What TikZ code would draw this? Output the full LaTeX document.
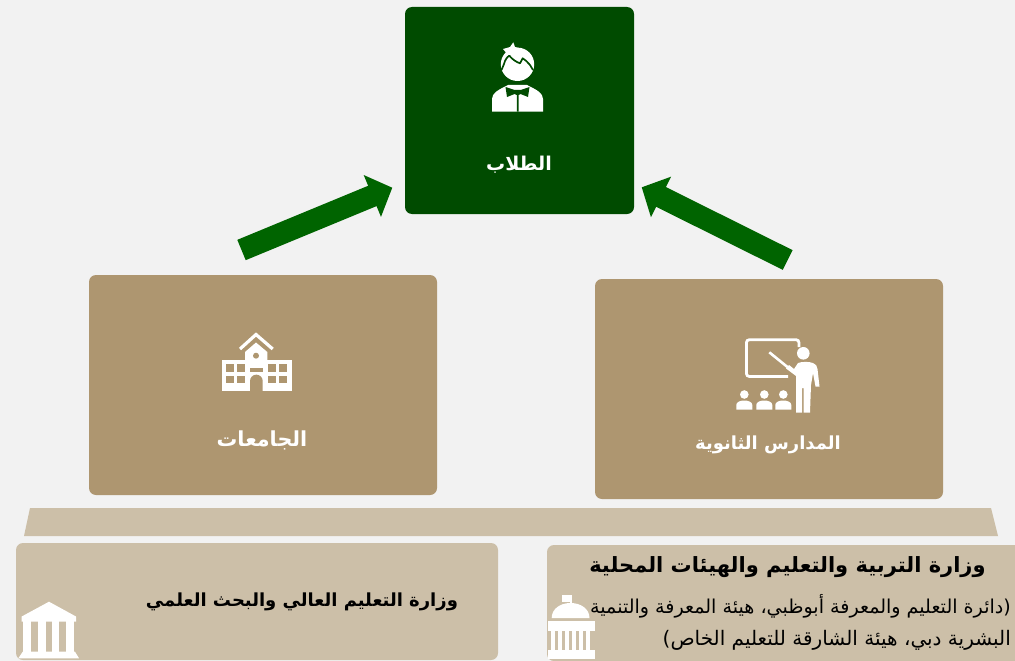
\documentclass[tikz,border=0pt]{standalone}
\usepackage{fontspec}
\usetikzlibrary{arrows.meta}
\TeXXeTstate=1
\newfontfamily\arabicfont[Script=Arabic]{DejaVu Sans}
\definecolor{pagebg}{HTML}{F2F2F2}
\definecolor{darkgreen}{HTML}{004B00}
\definecolor{arrowgreen}{HTML}{006400}
\definecolor{tan}{HTML}{AE9670}
\definecolor{lighttan}{HTML}{CCBFA8}
\newcommand{\ar}[1]{\arabicfont\beginR #1\endR}
\tikzset{
  x=1pt,y=-1pt,
  boxnode/.style={rounded corners=7pt,inner sep=0pt,outer sep=0pt,draw=none},
  greenbox/.style={boxnode,fill=darkgreen},
  tanbox/.style={boxnode,fill=tan},
  lightbox/.style={boxnode,fill=lighttan},
  whitelabel/.style={text=white,inner sep=0pt},
  blacklabel/.style={text=black,inner sep=0pt},
  bigarrow/.style={draw=arrowgreen,line width=22pt,-{Triangle[length=21.6pt,width=44pt]}},
  icon/.style={fill=white,draw=none},
  iconline/.style={draw=white,fill=none},
}
\begin{document}
\begin{tikzpicture}
\useasboundingbox (0,0) rectangle (1015,661);
\clip (0,0) rectangle (1015,661);
\fill[pagebg] (0,0) rectangle (1015,661);

% boxes
\node[greenbox,minimum width=229pt,minimum height=207pt] (students) at (519.5,110.5) {};
\node[tanbox,minimum width=348pt,minimum height=220pt] (universities) at (263,385) {};
\node[tanbox,minimum width=348pt,minimum height=220pt] (schools) at (769,389) {};
\path[fill=lighttan] (30,508) -- (991,508) -- (998,536) -- (24,536) -- cycle;
\node[lightbox,minimum width=482pt,minimum height=117pt] (higher) at (257,601.5) {};
\node[lightbox,minimum width=490pt,minimum height=116pt] (moe) at (792,603) {};

% arrows
\coordinate (lt) at (241.5,250);
\coordinate (lh) at (392.3,187.7);
\coordinate (rt) at (787.7,260);
\coordinate (rh) at (641.7,187.3);
\draw[bigarrow] (lt) -- (lh);
\draw[bigarrow] (rt) -- (rh);

% student icon
\fill[icon] (517.5,64.3) circle (16.7);
\fill[icon] (503,49) -- (510,47) -- (513.3,42.3) -- (515,47) -- (522,49) -- (508,55) -- cycle;
\draw[darkgreen,line width=1.7pt,line join=round] (501.5,70) -- (504,64) .. controls (505,60) and (507,57) .. (509.3,55.7) .. controls (512,59) and (516,62) .. (520,63.3) -- (522.7,58.3) .. controls (525,60) and (528,62) .. (530,65) -- (533,70);
\fill[icon] (492,111.5) -- (492,99) .. controls (492,93) and (498,90) .. (508,85) -- (527,85) .. controls (537,90) and (543,93) .. (543,99) -- (543,111.5) -- cycle;
\fill[darkgreen] (505.5,87) -- (514.5,90) -- (520.5,90) -- (529.5,87) -- (528,97) -- (520.5,94) -- (518.5,95) -- (518.5,111.5) -- (516.8,111.5) -- (516.8,95) -- (514.5,94) -- (507,97) -- cycle;

% university icon
\draw[iconline,line width=3.2pt] (240,349) -- (256,334.5) -- (272.7,349);
\fill[icon] (245,360) -- (245,352) -- (256,342.5) -- (267.3,352) -- (267.3,360) -- cycle;
\fill[icon] (221.7,360) rectangle (291.7,391);
\fill[tan] (256,355.7) circle (3);
\foreach \xa in {225.7,236.7,268.3,279.3}{
  \foreach \ya in {364.3,375.7}{
    \fill[tan] (\xa,\ya) rectangle ++(7.8,7.5);
  }
}
\fill[tan] (250,368) rectangle (262.7,371.7);
\fill[tan] (250,391) -- (250,381) arc[start angle=180,end angle=0,radius=6.35pt,y=1pt] -- (262.7,391) -- cycle;

% teacher icon
\draw[iconline,line width=2.8pt,rounded corners=3pt] (788,376.5) -- (746.4,376.5) -- (746.4,339.7) -- (799,339.7) -- (799,347);
\draw[iconline,line width=2.6pt] (769.3,352.3) -- (788.3,367.7);
\fill[icon] (803.3,353.3) circle (6.3);
\fill[icon] (786,368.5) -- (789,365) -- (794,369) -- (798,363) .. controls (802,361.5) and (809,361.5) .. (813,363) .. controls (816,364) and (817,366) .. (817.5,369) -- (819.5,386.5) -- (815.5,386.5) -- (813,373) -- (811,385) -- (810,412.5) -- (803.5,412.5) -- (803.5,388) -- (802,388) -- (802,412.5) -- (796,412.5) -- (796,376) -- cycle;
\foreach \xa in {744.3,764.3,783.3}{
  \fill[icon] (\xa,394.5) circle (4.3);
  \fill[icon] (\xa-8,409.5) -- (\xa-8,405) .. controls (\xa-8,402) and (\xa-4,400.5) .. (\xa,400.5) .. controls (\xa+4,400.5) and (\xa+8,402) .. (\xa+8,405) -- (\xa+8,409.5) -- cycle;
}

% temple icon (higher education)
\fill[icon] (49,601.7) -- (76,616.5) -- (76,621.7) -- (21.7,621.7) -- (21.7,616.5) -- cycle;
\foreach \xa/\xb in {23/31,37.5/45.5,52/59,65.5/74}{\fill[icon] (\xa,621) rectangle (\xb,652);}
\fill[icon] (22.7,651.7) -- (75,651.7) -- (79,658.3) -- (18.3,658.3) -- cycle;

% capitol icon
\fill[icon] (562.3,595) rectangle (572.3,601.7);
\fill[icon] (569.5,595) rectangle (572.3,606);
\fill[icon] (551.7,618) .. controls (551.7,609) and (560,603) .. (570.5,603) .. controls (581,603) and (589.5,609) .. (589.5,618) -- cycle;
\fill[icon] (548.3,620.5) rectangle (595,630.7);
\foreach \xa in {551,558,565,572,579,586}{\fill[icon] (\xa,630) rectangle ++(4.4,21);}
\fill[icon] (548,650) rectangle (595,658.5);

% labels
\node[whitelabel,font=\fontsize{19}{22}\selectfont\bfseries] (lstudents) at (519,165) {\ar{الطلاب}};
\node[whitelabel,font=\fontsize{20.7}{24}\selectfont\bfseries] (luniversities) at (262,440) {\ar{الجامعات}};
\node[whitelabel,font=\fontsize{18}{22}\selectfont\bfseries] (lschools) at (768,445) {\ar{المدارس الثانوية}};
\node[blacklabel,font=\fontsize{18}{22}\selectfont\bfseries] (lhigher) at (302,602) {\ar{وزارة التعليم العالي والبحث العلمي}};
\node[blacklabel,font=\fontsize{21}{25}\selectfont\bfseries] (lmoe) at (787.5,567) {\ar{وزارة التربية والتعليم والهيئات المحلية}};
\node[blacklabel,font=\fontsize{19.1}{23}\selectfont,anchor=east] (lsub1) at (1011,606) {\ar{(دائرة التعليم والمعرفة أبوظبي، هيئة المعرفة والتنمية}};
\node[blacklabel,font=\fontsize{20}{24}\selectfont,anchor=east] (lsub2) at (1011,640) {\ar{البشرية دبي، هيئة الشارقة للتعليم الخاص)}};
\end{tikzpicture}
\end{document}
